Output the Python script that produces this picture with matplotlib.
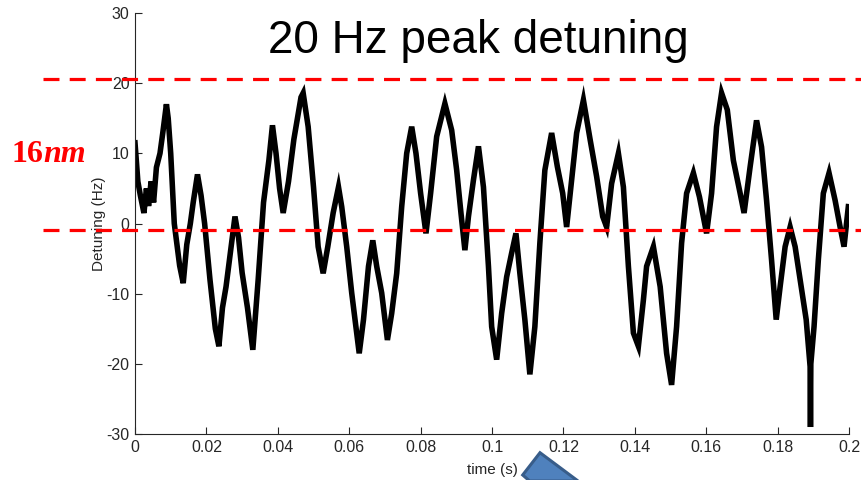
import numpy as np
import matplotlib.pyplot as plt
from matplotlib.patches import Polygon

# detuning trace, sampled at the turning points of the measured signal
time_s = [
    0.0000, 0.0008, 0.0015, 0.0025, 0.0032, 0.0038, 0.0045, 0.0052, 0.0060, 0.0070,
    0.0078, 0.0088, 0.0093, 0.0100, 0.0110, 0.0125, 0.0135, 0.0145, 0.0155, 0.0163,
    0.0175, 0.0185, 0.0195, 0.0210, 0.0225, 0.0235, 0.0245, 0.0255, 0.0270, 0.0280,
    0.0290, 0.0300, 0.0315, 0.0330, 0.0345, 0.0360, 0.0375, 0.0385, 0.0395, 0.0405,
    0.0415, 0.0430, 0.0445, 0.0465, 0.0471, 0.0485, 0.0500, 0.0513, 0.0527, 0.0540,
    0.0555, 0.0570, 0.0579, 0.0593, 0.0607, 0.0621, 0.0628, 0.0640, 0.0654, 0.0666,
    0.0677, 0.0691, 0.0707, 0.0719, 0.0733, 0.0747, 0.0761, 0.0775, 0.0787, 0.0800,
    0.0815, 0.0828, 0.0845, 0.0868, 0.0887, 0.0901, 0.0913, 0.0924, 0.0934, 0.0948,
    0.0962, 0.0976, 0.0990, 0.0999, 0.1013, 0.1027, 0.1041, 0.1055, 0.1067, 0.1078,
    0.1092, 0.1106, 0.1120, 0.1134, 0.1148, 0.1167, 0.1183, 0.1198, 0.1209, 0.1223,
    0.1237, 0.1256, 0.1275, 0.1293, 0.1310, 0.1321, 0.1335, 0.1354, 0.1368, 0.1382,
    0.1396, 0.1410, 0.1424, 0.1433, 0.1452, 0.1471, 0.1489, 0.1503, 0.1517, 0.1531,
    0.1545, 0.1564, 0.1581, 0.1601, 0.1615, 0.1629, 0.1643, 0.1659, 0.1676, 0.1695,
    0.1706, 0.1723, 0.1741, 0.1755, 0.1769, 0.1783, 0.1796, 0.1807, 0.1821, 0.1835,
    0.1849, 0.1863, 0.1880, 0.1891, 0.1892, 0.1893, 0.1902, 0.1914, 0.1928, 0.1944,
    0.1961, 0.1975, 0.1986, 0.1998,
]
detuning_hz = [
    11.5, 6.0, 4.0, 1.5, 5.0, 2.5, 6.0, 3.0, 8.0, 10.0,
    13.0, 17.0, 15.0, 10.0, 0.0, -6.0, -8.5, -3.0, 0.0, 3.0,
    7.0, 4.0, 0.0, -8.0, -15.0, -17.5, -12.0, -9.0, -3.0, 1.0,
    -2.0, -7.0, -12.0, -18.0, -8.0, 3.0, 9.0, 14.0, 10.0, 5.0,
    1.5, 6.0, 12.0, 18.0, 18.6, 13.8, 5.2, -3.3, -7.1, -3.3,
    1.5, 5.2, 2.4, -3.3, -9.9, -15.6, -18.5, -13.7, -6.1, -2.4,
    -6.1, -9.9, -16.6, -12.8, -7.1, 2.4, 10.0, 13.8, 10.0, 4.3,
    -1.4, 4.3, 12.4, 17.1, 13.3, 7.6, 1.5, -3.8, 1.0, 6.2,
    11.0, 5.2, -6.1, -14.7, -19.4, -12.8, -7.6, -4.2, -1.4, -7.1,
    -13.7, -21.5, -14.7, -2.8, 7.6, 12.9, 8.1, 4.3, -0.5, 6.2,
    12.9, 17.6, 11.9, 6.7, 1.0, -0.5, 5.7, 10.0, 5.2, -6.1,
    -15.6, -17.5, -10.9, -6.1, -3.3, -9.0, -18.5, -23.0, -14.7, -2.8,
    4.3, 7.2, 3.8, -1.4, 4.3, 13.8, 18.6, 16.2, 9.0, 4.3,
    1.5, 8.1, 14.7, 10.9, 3.3, -5.2, -13.7, -9.0, -3.3, -0.5,
    -3.3, -8.0, -13.7, -20.4, -29.0, -20.0, -14.7, -5.2, 4.3, 7.2,
    3.3, -0.5, -3.3, 2.4,
]

# 16 nm band limits
band_hz = [20.6, -0.93]

x_ticks = [0, 0.02, 0.04, 0.06, 0.08, 0.1, 0.12, 0.14, 0.16, 0.18, 0.2]
x_ticklabels = ['0', '0.02', '0.04', '0.06', '0.08', '0.1', '0.12', '0.14', '0.16', '0.18', '0.2']
y_ticks = [-30, -20, -10, 0, 10, 20, 30]

plt.rcParams['font.family'] = ['Liberation Sans', 'DejaVu Sans']
plt.rcParams['axes.unicode_minus'] = False
grey = '#262626'

fig = plt.figure(figsize=(8.61, 4.8), dpi=100)
ax = fig.add_axes([0.1568, 0.0958, 0.8293, 0.8771])

ax.plot(time_s, detuning_hz, color='black', lw=4.0, solid_joinstyle='miter', zorder=2)

for level in band_hz:
    ax.plot([-0.0258, 0.2034], [level, level], color='red', lw=2.3,
            dashes=(5, 3.2), clip_on=False, zorder=3)

ax.set_xlim(0, 0.2)
ax.set_ylim(-30, 30)
ax.set_xticks(x_ticks)
ax.set_xticklabels(x_ticklabels)
ax.set_yticks(y_ticks)
ax.tick_params(direction='in', length=5, width=0.8, colors=grey, labelsize=11.5, pad=4)
for side in ['top', 'right']:
    ax.spines[side].set_visible(False)
for side in ['left', 'bottom']:
    ax.spines[side].set_color(grey)
    ax.spines[side].set_linewidth(0.8)

ax.set_xlabel('time (s)', fontsize=11, color=grey, labelpad=6)
ax.set_ylabel('Detuning (Hz)', fontsize=11, color=grey, labelpad=0)

fig.text(478 / 861, 1 - 52.7 / 480, '20 Hz peak detuning', fontsize=33,
         ha='center', va='baseline', color='black')

# red annotation on the left
fig.text(11 / 861, 1 - 162 / 480, '16', fontsize=23, fontweight='bold',
         family='Liberation Serif', color='red', va='baseline', ha='left')
fig.text(43 / 861, 1 - 162 / 480, 'nm', fontsize=23, fontweight='bold',
         style='italic', family='Liberation Serif', color='red', va='baseline', ha='left')

# tip of the blue pointer at the bottom
tip = [(522.7, 475), (540, 452.7), (578, 481), (529.6, 481)]
fig.add_artist(Polygon([(px / 861, 1 - py / 480) for px, py in tip],
                       closed=True, facecolor='#4F81BD', edgecolor='#385D8A',
                       lw=2.2, transform=fig.transFigure, clip_on=False))

fig.savefig('out.png', dpi=100)
